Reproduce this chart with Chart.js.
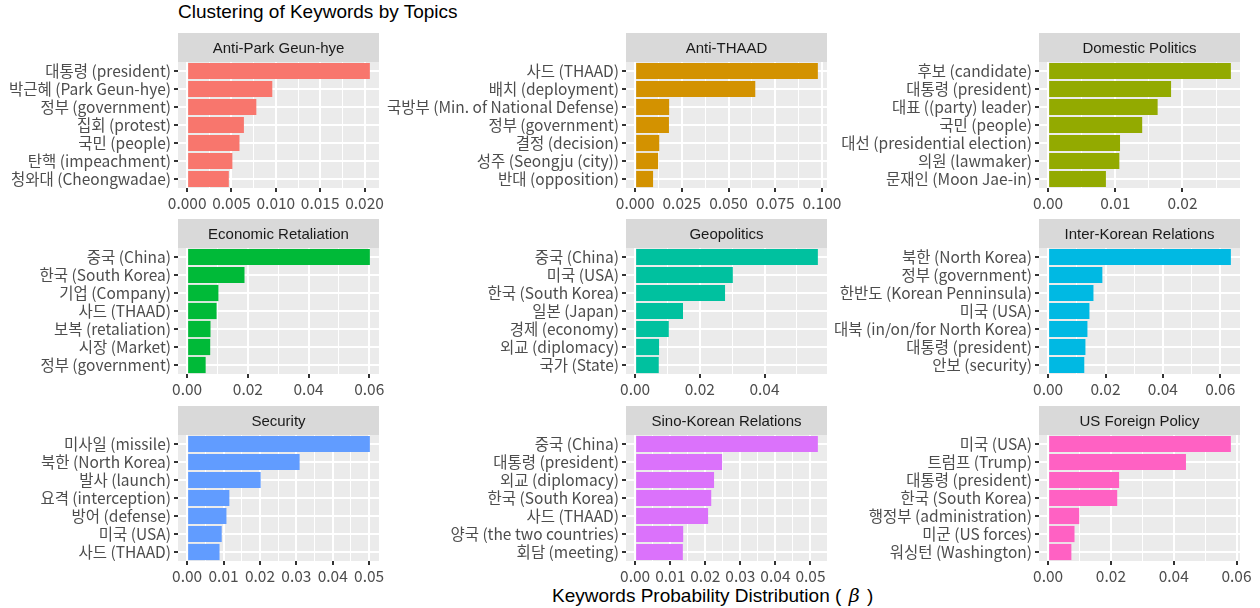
<!DOCTYPE html>
<html>
<head>
<meta charset="utf-8">
<script src="https://cdn.jsdelivr.net/npm/chart.js@4"></script>
<style>
  body { margin: 0; background: #fff; width: 1260px; height: 608px; position: relative; overflow: hidden; }
  canvas { position: absolute; }
  #title { position: absolute; left: 178px; top: 0; font: 19px 'Liberation Sans', Arial, sans-serif; line-height: 23px; color: #000; }
  #xtitle { position: absolute; left: 552px; top: 584px; white-space: nowrap; font: 19px 'Liberation Sans', Arial, sans-serif; line-height: 23px; color: #000; }
  #xtitle .b { font-family: 'DejaVu Serif', serif; font-style: italic; font-size: 19px; padding: 0 2px; }
</style>
</head>
<body>
<div id="title">Clustering of Keywords by Topics</div>
<div id="xtitle">Keywords Probability Distribution ( <span class="b">β</span> )</div>
<script>
// topics in facet order
const topics = ['Anti-Park Geun-hye', 'Anti-THAAD', 'Domestic Politics',
  'Economic Retaliation', 'Geopolitics', 'Inter-Korean Relations',
  'Security', 'Sino-Korean Relations', 'US Foreign Policy'];

const colors = ['#F8766D', '#D39200', '#93AA00', '#00BA38', '#00C19F',
  '#00B9E3', '#619CFF', '#DB72FB', '#FF61C3'];

const termsAntiPark = ['대통령 (president)', '박근혜 (Park Geun-hye)', '정부 (government)', '집회 (protest)', '국민 (people)', '탄핵 (impeachment)', '청와대 (Cheongwadae)'];
const betaAntiPark = [0.0206, 0.0096, 0.0078, 0.0064, 0.0059, 0.0051, 0.0047];
const ticksAntiPark = ['0.000', '0.005', '0.010', '0.015', '0.020'];

const termsAntiThaad = ['사드 (THAAD)', '배치 (deployment)', '국방부 (Min. of National Defense)', '정부 (government)', '결정 (decision)', '성주 (Seongju (city))', '반대 (opposition)'];
const betaAntiThaad = [0.0978, 0.0643, 0.0182, 0.0181, 0.0129, 0.0123, 0.0096];
const ticksAntiThaad = ['0.000', '0.025', '0.050', '0.075', '0.100'];

const termsDomestic = ['후보 (candidate)', '대통령 (president)', '대표 ((party) leader)', '국민 (people)', '대선 (presidential election)', '의원 (lawmaker)', '문재인 (Moon Jae-in)'];
const betaDomestic = [0.0272, 0.0183, 0.0163, 0.0140, 0.0107, 0.0106, 0.0086];
const ticksDomestic = ['0.00', '0.01', '0.02'];

const termsEconomic = ['중국 (China)', '한국 (South Korea)', '기업 (Company)', '사드 (THAAD)', '보복 (retaliation)', '시장 (Market)', '정부 (government)'];
const betaEconomic = [0.0602, 0.0189, 0.0103, 0.0097, 0.0077, 0.0076, 0.0061];
const ticksEconomic = ['0.00', '0.02', '0.04', '0.06'];

const termsGeo = ['중국 (China)', '미국 (USA)', '한국 (South Korea)', '일본 (Japan)', '경제 (economy)', '외교 (diplomacy)', '국가 (State)'];
const betaGeo = [0.0565, 0.0302, 0.0278, 0.0148, 0.0104, 0.0074, 0.0073];
const ticksGeo = ['0.00', '0.02', '0.04'];

const termsInterKorean = ['북한 (North Korea)', '정부 (government)', '한반도 (Korean Penninsula)', '미국 (USA)', '대북 (in/on/for North Korea)', '대통령 (president)', '안보 (security)'];
const betaInterKorean = [0.0637, 0.0189, 0.0158, 0.0144, 0.0137, 0.0130, 0.0126];
const ticksInterKorean = ['0.00', '0.02', '0.04', '0.06'];

const termsSecurity = ['미사일 (missile)', '북한 (North Korea)', '발사 (launch)', '요격 (interception)', '방어 (defense)', '미국 (USA)', '사드 (THAAD)'];
const betaSecurity = [0.0502, 0.0309, 0.0202, 0.0116, 0.0108, 0.0095, 0.0089];
const ticksSecurity = ['0.00', '0.01', '0.02', '0.03', '0.04', '0.05'];

const termsSino = ['중국 (China)', '대통령 (president)', '외교 (diplomacy)', '한국 (South Korea)', '사드 (THAAD)', '양국 (the two countries)', '회담 (meeting)'];
const betaSino = [0.0521, 0.0248, 0.0225, 0.0217, 0.0208, 0.0137, 0.0136];
const ticksSino = ['0.00', '0.01', '0.02', '0.03', '0.04', '0.05'];

const termsUS = ['미국 (USA)', '트럼프 (Trump)', '대통령 (president)', '한국 (South Korea)', '행정부 (administration)', '미군 (US forces)', '워싱턴 (Washington)'];
const betaUS = [0.0582, 0.0439, 0.0226, 0.0220, 0.0099, 0.0084, 0.0074];
const ticksUS = ['0.00', '0.02', '0.04', '0.06'];

const allTerms = [termsAntiPark, termsAntiThaad, termsDomestic, termsEconomic, termsGeo, termsInterKorean, termsSecurity, termsSino, termsUS];
const allBetas = [betaAntiPark, betaAntiThaad, betaDomestic, betaEconomic, betaGeo, betaInterKorean, betaSecurity, betaSino, betaUS];
const allTicks = [ticksAntiPark, ticksAntiThaad, ticksDomestic, ticksEconomic, ticksGeo, ticksInterKorean, ticksSecurity, ticksSino, ticksUS];

// layout of the facet grid (pixels)
const plotLeft = [178, 626, 1039];
const yAxisW = [175, 245, 210];
const plotW = 201;
const stripTop = [33, 219, 406];
const stripH = 29;
const plotH = 126;
const xAxisH = 28;
const padRight = 25;

const axisFont = { family: "'Noto Sans CJK KR', 'Noto Sans', sans-serif", size: 15.5 };

// grey panel + strip header
const panelPlugin = {
    id: 'panel',
    beforeDraw(chart, args, opts) {
        const c = chart.ctx;
        const a = chart.chartArea;
        c.save();
        c.fillStyle = '#ebebeb';
        c.fillRect(a.left, a.top, a.right - a.left, a.bottom - a.top);
        c.fillStyle = '#d9d9d9';
        c.fillRect(a.left, 0, a.right - a.left, a.top);
        c.fillStyle = '#1a1a1a';
        c.font = "15px 'Liberation Sans', Arial, sans-serif";
        c.textAlign = 'center';
        c.textBaseline = 'middle';
        c.fillText(opts.text, (a.left + a.right) / 2, a.top / 2 + 1);
        c.restore();
    }
};

topics.forEach((topic, i) => {
    const row = Math.floor(i / 3), col = i % 3;
    const canvas = document.createElement('canvas');
    const w = yAxisW[col] + plotW + padRight;
    const h = stripH + plotH + xAxisH;
    canvas.width = w;
    canvas.height = h;
    canvas.style.left = (plotLeft[col] - yAxisW[col]) + 'px';
    canvas.style.top = stripTop[row] + 'px';
    document.body.appendChild(canvas);

    const betas = allBetas[i];
    const maxB = Math.max(...betas);
    const major = allTicks[i].map(Number);
    const step = major[1] - major[0];
    const xmin = -0.05 * maxB, xmax = 1.05 * maxB;
    // major + minor breaks like ggplot
    const breaks = [];
    for (let k = -1; k < major.length; k++) {
        const v = major[0] + k * step;
        if (k >= 0) breaks.push({ value: v, major: true });
        const m = v + step / 2;
        if (m > xmin && m < xmax) breaks.push({ value: m, major: false });
    }
    const isMajor = (ctx) => ctx.tick && ctx.tick.major;

    new Chart(canvas, {
        type: 'bar',
        data: {
            labels: allTerms[i],
            datasets: [{
                data: betas,
                backgroundColor: colors[i],
                barPercentage: 0.9,
                categoryPercentage: 1,
            }],
        },
        options: {
            indexAxis: 'y',
            responsive: false,
            animation: false,
            layout: { padding: { top: stripH, right: padRight, left: 0, bottom: 0 } },
            plugins: {
                legend: { display: false },
                tooltip: { enabled: false },
                panel: { text: topic },
            },
            scales: {
                x: {
                    type: 'linear',
                    min: xmin,
                    max: xmax,
                    afterBuildTicks: (scale) => {
                        scale.ticks = breaks.filter(b => b.value >= xmin && b.value <= xmax)
                            .map(b => ({ value: b.value, major: b.major }));
                    },
                    afterFit: (scale) => { scale.height = xAxisH; },
                    border: { display: false },
                    grid: {
                        color: '#ffffff',
                        lineWidth: (ctx) => isMajor(ctx) ? 2 : 1,
                        drawTicks: true,
                        tickLength: 4,
                        tickWidth: 2,
                        tickColor: (ctx) => isMajor(ctx) ? '#333333' : 'rgba(0,0,0,0)',
                    },
                    ticks: {
                        autoSkip: false,
                        maxRotation: 0,
                        padding: 2,
                        color: '#4d4d4d',
                        font: axisFont,
                        callback: function (value, index, ticks) {
                            if (!ticks[index].major) return '';
                            const j = major.findIndex(m => Math.abs(m - value) < 1e-9);
                            return j >= 0 ? allTicks[i][j] : '';
                        },
                    },
                },
                y: {
                    afterFit: (scale) => { scale.width = yAxisW[col]; },
                    border: { display: false },
                    grid: {
                        offset: false,
                        color: '#ffffff',
                        lineWidth: 2,
                        drawTicks: true,
                        tickLength: 4,
                        tickWidth: 2,
                        tickColor: '#333333',
                    },
                    ticks: {
                        autoSkip: false,
                        padding: 3,
                        color: '#4d4d4d',
                        font: axisFont,
                    },
                },
            },
        },
        plugins: [panelPlugin],
    });
});
</script>
</body>
</html>
